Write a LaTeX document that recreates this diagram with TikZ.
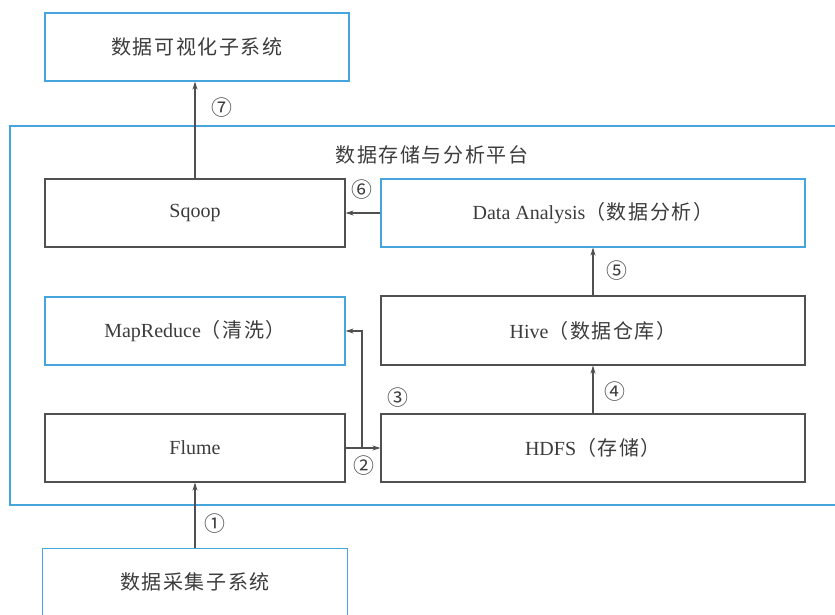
\documentclass[tikz,border=0pt]{standalone}
\usepackage{fontspec}
\setmainfont{Liberation Serif}
\newfontfamily\cjk{Noto Sans CJK SC}[Scale=1.0,LetterSpace=8]
\newfontfamily\cjknum{Noto Sans CJK SC}[Scale=1.1]
\usetikzlibrary{arrows.meta}
\definecolor{bluebox}{RGB}{70,165,220}
\definecolor{linegray}{RGB}{80,80,80}
\definecolor{txtgray}{RGB}{60,60,60}
\tikzset{
  box/.style={draw=linegray, line width=1.1pt, rectangle, inner sep=0pt, font=\fontsize{20}{23}\selectfont, text=txtgray},
  bbox/.style={box, draw=bluebox},
  arr/.style={draw=linegray, line width=1.1pt, -{Stealth[length=8pt,width=5pt]}},
  num/.style={font=\cjknum\fontsize{19}{22}\selectfont, text=txtgray, inner sep=0pt},
  ttl/.style={font=\cjk\fontsize{20}{23}\selectfont, text=txtgray, inner sep=0pt},
}
\begin{document}
\begin{tikzpicture}[x=1pt,y=-1pt]
\useasboundingbox (0,0) rectangle (835,614);
\clip (0,0) rectangle (835,614);
\fill[white] (0,0) rectangle (835,614);
% outer platform
\draw[draw=bluebox, line width=1.1pt] (10,126) rectangle (845,505);
\node[ttl] (title) at (432,155) {数据存储与分析平台};
% boxes
\node[bbox, minimum width=304pt, minimum height=68pt] (vis) at (197,47) {\cjk 数据可视化子系统};
\node[box, minimum width=300pt, minimum height=68pt] (sqoop) at (195,213) {Sqoop};
\node[bbox, minimum width=424pt, minimum height=68pt] (da) at (593,213) {Data Analysis{\cjk（数据分析）}};
\node[bbox, minimum width=300pt, minimum height=68pt] (mr) at (195,331) {MapReduce{\cjk（清洗）}};
\node[box, minimum width=424pt, minimum height=69pt] (hive) at (593,330.5) {Hive{\cjk（数据仓库）}};
\node[box, minimum width=300pt, minimum height=68pt] (flume) at (195,448) {Flume};
\node[box, minimum width=424pt, minimum height=68pt] (hdfs) at (593,448) {HDFS{\cjk（存储）}};
\node[bbox, anchor=north, minimum width=305pt, minimum height=80pt, text depth=16pt] (coll) at (195,548) {\cjk 数据采集子系统};
% connectors
\draw[arr] (coll.north) -- (flume.south);
\draw[arr] (sqoop.north) -- (vis.south -| sqoop.north);
\draw[arr] (da.west) -- (sqoop.east);
\draw[arr] (hive.north) -- (da.south);
\draw[arr] (hdfs.north) -- (hive.south);
\draw[arr] (flume.east) -- (hdfs.west);
\coordinate (jn) at (362,448);
\draw[arr] (jn) -- (jn |- mr.east) -- (mr.east);
% labels
\node[num] (n1) at (215,524) {①};
\node[num] (n2) at (364,466) {②};
\node[num] (n3) at (398,398) {③};
\node[num] (n4) at (615,392) {④};
\node[num] (n5) at (617,271) {⑤};
\node[num] (n6) at (362,190) {⑥};
\node[num] (n7) at (222,108) {⑦};
\end{tikzpicture}
\end{document}
